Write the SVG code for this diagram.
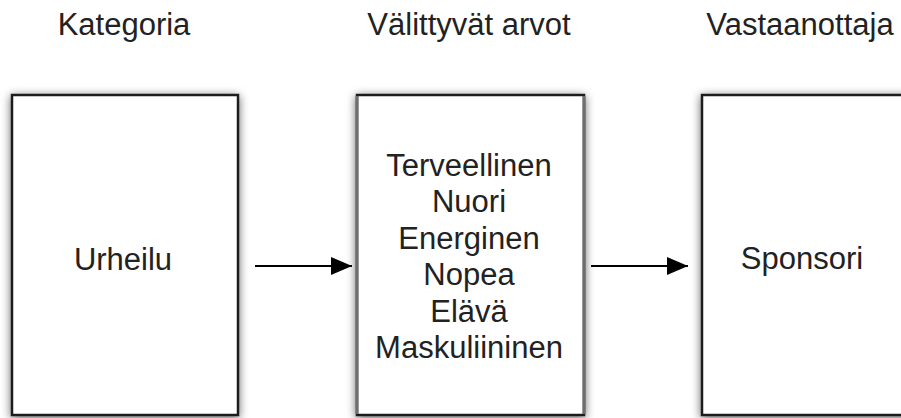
<svg xmlns="http://www.w3.org/2000/svg" width="901" height="418" viewBox="0 0 901 418">
  <defs>
    <filter id="shadow" x="-15%" y="-15%" width="130%" height="130%">
      <feDropShadow dx="0" dy="2" stdDeviation="5" flood-color="#000" flood-opacity="0.6"/>
    </filter>
    <marker id="arrow" markerWidth="21" markerHeight="18" refX="21" refY="9" orient="auto" markerUnits="userSpaceOnUse">
      <polygon points="0,0 21,9 0,18" fill="#000"/>
    </marker>
  </defs>
  <style>
    text { font-family: "Liberation Sans", Arial, Helvetica, sans-serif; font-size: 31px; fill: #222; text-anchor: middle; }
    .box { fill: #fff; stroke: #1e1e1e; stroke-width: 2.5; filter: url(#shadow); }
    .side { stroke: #6e6e6e; stroke-width: 3; }
    .conn { stroke: #000; stroke-width: 2; fill: none; marker-end: url(#arrow); }
  </style>
  <rect width="901" height="418" fill="#fff"/>

  <!-- column headings -->
  <g id="headings">
    <text x="124" y="35">Kategoria</text>
    <text x="469" y="35">Välittyvät arvot</text>
    <text x="800" y="35">Vastaanottaja</text>
  </g>

  <g id="node-urheilu">
    <rect class="box" x="12" y="95" width="226" height="320"/>
    <text x="123" y="270">Urheilu</text>
  </g>

  <g id="node-arvot">
    <rect class="box" x="357" y="95" width="227" height="320"/>
    <line class="side" x1="357" y1="96" x2="357" y2="414"/>
    <line class="side" x1="584" y1="96" x2="584" y2="414"/>
    <text x="469" y="176">Terveellinen</text>
    <text x="469" y="212">Nuori</text>
    <text x="469" y="249">Energinen</text>
    <text x="469" y="285">Nopea</text>
    <text x="469" y="322">Elävä</text>
    <text x="469" y="358">Maskuliininen</text>
  </g>

  <g id="node-sponsori">
    <rect class="box" x="702" y="95" width="226" height="320"/>
    <text x="802" y="269">Sponsori</text>
  </g>

  <g id="connectors">
    <line class="conn" x1="255" y1="266" x2="352" y2="266"/>
    <line class="conn" x1="591" y1="266" x2="688" y2="266"/>
  </g>
</svg>
